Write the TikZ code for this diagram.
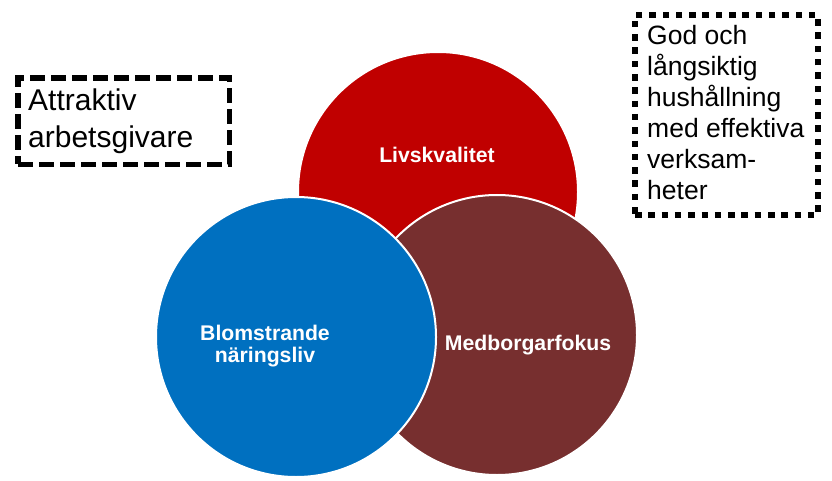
\documentclass[tikz,border=0pt]{standalone}
\usepackage{fontspec}
\setmainfont{Liberation Sans}
\definecolor{cred}{HTML}{C00000}
\definecolor{cblue}{HTML}{0070C0}
\definecolor{cbrown}{HTML}{772F2F}
\begin{document}
\begin{tikzpicture}[x=1pt,y=-1pt,
  circ/.style={circle, draw=white, line width=2pt, minimum size=280pt, inner sep=0pt},
  lbl/.style={text=white, font=\fontsize{21.2}{22}\selectfont\bfseries, align=center},
  dashbox/.style={draw=black, line width=5.7pt, dash pattern=on 15pt off 6pt, inner sep=0pt},
  dotbox/.style={draw=black, line width=6.5pt, dash pattern=on 6.5pt off 6.8pt, inner sep=0pt},
  boxtext/.style={align=left, inner sep=0pt, anchor=west}]
\useasboundingbox[fill=white] (0,0) rectangle (832,481);
\node[circ, fill=cred] (liv) at (438,192) {};
\node[circ, fill=cbrown] (med) at (497,335) {};
\node[circ, fill=cblue] (blom) at (296,337) {};
\node[lbl] (livt) at (437,155) {Livskvalitet};
\node[lbl] (blomt) at (265,346) {Blomstrande\\näringsliv};
\node[lbl] (medt) at (528,345) {Medborgarfokus};
\node[dashbox, minimum width=211.5pt, minimum height=86.5pt] (attr) at (123.75,121.25) {};
\node[boxtext, font=\fontsize{30}{37}\selectfont] (attrt) at (28,121.5) {Attraktiv\\arbetsgivare};
\node[dotbox, minimum width=183pt, minimum height=200pt] (god) at (726.5,115) {};
\node[boxtext, font=\fontsize{26.5}{31}\selectfont] (godt) at (647,112.9) {God och\\långsiktig\\hushållning\\med effektiva\\verksam-\\heter};
\end{tikzpicture}
\end{document}
